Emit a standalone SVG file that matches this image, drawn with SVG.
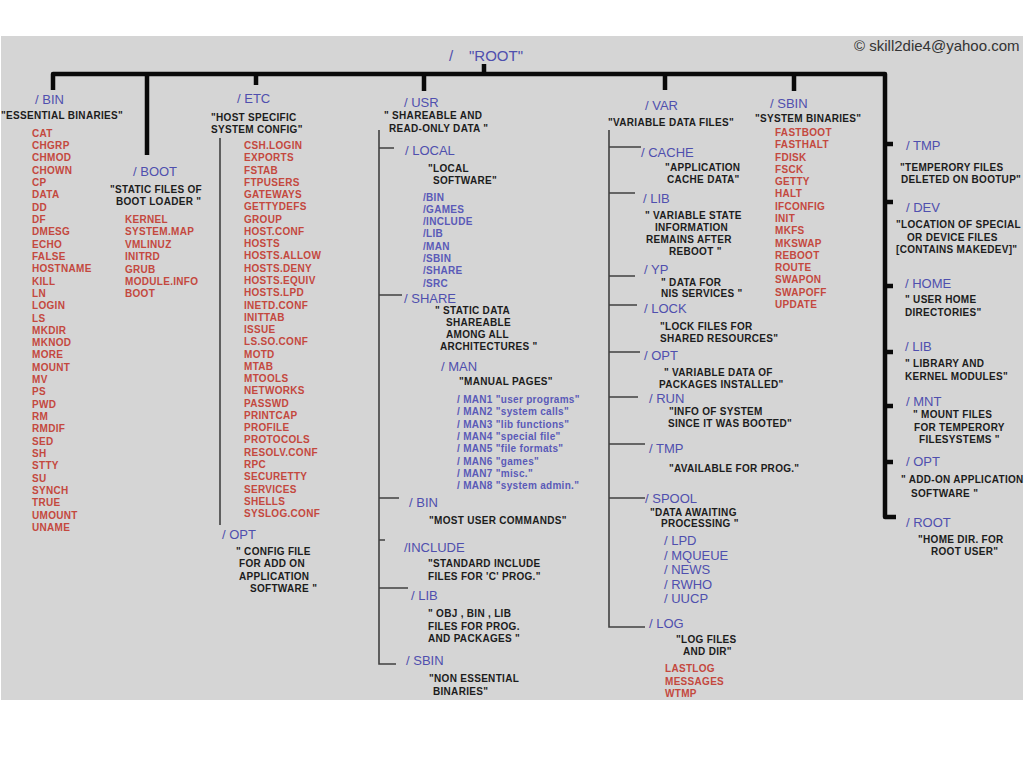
<svg xmlns="http://www.w3.org/2000/svg" width="1024" height="767" viewBox="0 0 1024 767">
<style>
text{font-family:"Liberation Sans",Arial,sans-serif;dominant-baseline:central}
.lb{font-size:13px;fill:#4f4fae}
.ds{font-size:10px;font-weight:bold;fill:#1c1c1c;letter-spacing:0.3px}
.rd{font-size:10px;font-weight:bold;fill:#c4483e;letter-spacing:0.3px}
.sb{font-size:10px;font-weight:bold;fill:#5a5ab8;letter-spacing:0.3px}
.sp{font-size:13px;fill:#4f4fae}
.thick{fill:none;stroke:#0a0a0a;stroke-width:4.5;stroke-linejoin:round}
.thin{fill:none;stroke:#404040;stroke-width:1.6}
</style>
<rect x="0" y="0" width="1024" height="767" fill="#ffffff"/>
<rect x="1" y="36" width="1022" height="664" fill="#d5d5d5"/>
<g id="connectors">
<path class="thick" d="M53,90 V74 H885 V517 H896"/>
<path class="thick" d="M147,74 V155 M256,74 V85 M424,74 V91 M484,64 V74 M665,74 V90 M794,74 V91"/>
<path class="thick" d="M885,144 H893 M885,202 H893 M885,286 H893 M885,352 H893 M885,406 H893 M885,462 H893"/>
<path class="thin" d="M220,138 V525"/>
<path class="thin" d="M379,130 V664 H396 M379,148 H394 M379,295 H402 M379,498 H399 M379,540 H385 M379,588 H408"/>
<path class="thin" d="M609,130 V627 H645 M609,147 H641 M609,193 H635 M609,276 H635 M609,305 H637 M609,352 H640 M609,397 H638 M609,444 H645 M609,498 H645"/>
</g>
<g id="root">
<text x="449" y="55" style="font-size:15px;fill:#4f4fae">/</text>
<text x="469" y="55" style="font-size:15px;fill:#4f4fae">"ROOT"</text>
</g>
<text x="854" y="45" style="font-size:15px;fill:#333">© skill2die4@yahoo.com</text>
<g id="bin">
<text class="lb" x="35" y="99">/ BIN</text>
<text class="ds" x="1" y="115">"ESSENTIAL BINARIES"</text>
<text class="rd" y="132.7"><tspan x="32">CAT</tspan><tspan x="32" dy="12.32">CHGRP</tspan><tspan x="32" dy="12.32">CHMOD</tspan><tspan x="32" dy="12.32">CHOWN</tspan><tspan x="32" dy="12.32">CP</tspan><tspan x="32" dy="12.32">DATA</tspan><tspan x="32" dy="12.32">DD</tspan><tspan x="32" dy="12.32">DF</tspan><tspan x="32" dy="12.32">DMESG</tspan><tspan x="32" dy="12.32">ECHO</tspan><tspan x="32" dy="12.32">FALSE</tspan><tspan x="32" dy="12.32">HOSTNAME</tspan><tspan x="32" dy="12.32">KILL</tspan><tspan x="32" dy="12.32">LN</tspan><tspan x="32" dy="12.32">LOGIN</tspan><tspan x="32" dy="12.32">LS</tspan><tspan x="32" dy="12.32">MKDIR</tspan><tspan x="32" dy="12.32">MKNOD</tspan><tspan x="32" dy="12.32">MORE</tspan><tspan x="32" dy="12.32">MOUNT</tspan><tspan x="32" dy="12.32">MV</tspan><tspan x="32" dy="12.32">PS</tspan><tspan x="32" dy="12.32">PWD</tspan><tspan x="32" dy="12.32">RM</tspan><tspan x="32" dy="12.32">RMDIF</tspan><tspan x="32" dy="12.32">SED</tspan><tspan x="32" dy="12.32">SH</tspan><tspan x="32" dy="12.32">STTY</tspan><tspan x="32" dy="12.32">SU</tspan><tspan x="32" dy="12.32">SYNCH</tspan><tspan x="32" dy="12.32">TRUE</tspan><tspan x="32" dy="12.32">UMOUNT</tspan><tspan x="32" dy="12.32">UNAME</tspan></text>
</g>
<g id="boot">
<text class="lb" x="133" y="171">/ BOOT</text>
<text class="ds" x="110" y="189">"STATIC FILES OF</text>
<text class="ds" x="116" y="201">BOOT LOADER "</text>
<text class="rd" y="219"><tspan x="125">KERNEL</tspan><tspan x="125" dy="12.4">SYSTEM.MAP</tspan><tspan x="125" dy="12.4">VMLINUZ</tspan><tspan x="125" dy="12.4">INITRD</tspan><tspan x="125" dy="12.4">GRUB</tspan><tspan x="125" dy="12.4">MODULE.INFO</tspan><tspan x="125" dy="12.4">BOOT</tspan></text>
</g>
<g id="etc">
<text class="lb" x="237" y="98">/ ETC</text>
<text class="ds" x="211" y="117">"HOST SPECIFIC</text>
<text class="ds" x="211" y="129">SYSTEM CONFIG"</text>
<text class="rd" y="145"><tspan x="244">CSH.LOGIN</tspan><tspan x="244" dy="12.27">EXPORTS</tspan><tspan x="244" dy="12.27">FSTAB</tspan><tspan x="244" dy="12.27">FTPUSERS</tspan><tspan x="244" dy="12.27">GATEWAYS</tspan><tspan x="244" dy="12.27">GETTYDEFS</tspan><tspan x="244" dy="12.27">GROUP</tspan><tspan x="244" dy="12.27">HOST.CONF</tspan><tspan x="244" dy="12.27">HOSTS</tspan><tspan x="244" dy="12.27">HOSTS.ALLOW</tspan><tspan x="244" dy="12.27">HOSTS.DENY</tspan><tspan x="244" dy="12.27">HOSTS.EQUIV</tspan><tspan x="244" dy="12.27">HOSTS.LPD</tspan><tspan x="244" dy="12.27">INETD.CONF</tspan><tspan x="244" dy="12.27">INITTAB</tspan><tspan x="244" dy="12.27">ISSUE</tspan><tspan x="244" dy="12.27">LS.SO.CONF</tspan><tspan x="244" dy="12.27">MOTD</tspan><tspan x="244" dy="12.27">MTAB</tspan><tspan x="244" dy="12.27">MTOOLS</tspan><tspan x="244" dy="12.27">NETWORKS</tspan><tspan x="244" dy="12.27">PASSWD</tspan><tspan x="244" dy="12.27">PRINTCAP</tspan><tspan x="244" dy="12.27">PROFILE</tspan><tspan x="244" dy="12.27">PROTOCOLS</tspan><tspan x="244" dy="12.27">RESOLV.CONF</tspan><tspan x="244" dy="12.27">RPC</tspan><tspan x="244" dy="12.27">SECURETTY</tspan><tspan x="244" dy="12.27">SERVICES</tspan><tspan x="244" dy="12.27">SHELLS</tspan><tspan x="244" dy="12.27">SYSLOG.CONF</tspan></text>
</g>
<g id="etc-opt">
<text class="lb" x="222" y="534">/ OPT</text>
<text class="ds" x="236" y="551">" CONFIG FILE</text>
<text class="ds" x="239" y="563">FOR ADD ON</text>
<text class="ds" x="239" y="576">APPLICATION</text>
<text class="ds" x="250" y="588">SOFTWARE "</text>
</g>
<g id="usr">
<text class="lb" x="404" y="102">/ USR</text>
<text class="ds" x="384" y="115">" SHAREABLE AND</text>
<text class="ds" x="389" y="128">READ-ONLY DATA "</text>
</g>
<g id="usr-local">
<text class="lb" x="405" y="150">/ LOCAL</text>
<text class="ds" x="428" y="168">"LOCAL</text>
<text class="ds" x="433" y="180">SOFTWARE"</text>
<text class="sb" y="196.5"><tspan x="423">/BIN</tspan><tspan x="423" dy="12.3">/GAMES</tspan><tspan x="423" dy="12.3">/INCLUDE</tspan><tspan x="423" dy="12.3">/LIB</tspan><tspan x="423" dy="12.3">/MAN</tspan><tspan x="423" dy="12.3">/SBIN</tspan><tspan x="423" dy="12.3">/SHARE</tspan><tspan x="423" dy="12.3">/SRC</tspan></text>
</g>
<g id="usr-share">
<text class="lb" x="404" y="298">/ SHARE</text>
<text class="ds" x="435" y="310">" STATIC DATA</text>
<text class="ds" x="446" y="322">SHAREABLE</text>
<text class="ds" x="446" y="334">AMONG ALL</text>
<text class="ds" x="440" y="346">ARCHITECTURES "</text>
</g>
<g id="usr-share-man">
<text class="lb" x="441" y="366">/ MAN</text>
<text class="ds" x="459" y="381">"MANUAL PAGES"</text>
<text class="sb" y="399"><tspan x="457">/ MAN1 "user programs"</tspan><tspan x="457" dy="12.35">/ MAN2 "system calls"</tspan><tspan x="457" dy="12.35">/ MAN3 "lib functions"</tspan><tspan x="457" dy="12.35">/ MAN4 "special file"</tspan><tspan x="457" dy="12.35">/ MAN5 "file formats"</tspan><tspan x="457" dy="12.35">/ MAN6 "games"</tspan><tspan x="457" dy="12.35">/ MAN7 "misc."</tspan><tspan x="457" dy="12.35">/ MAN8 "system admin."</tspan></text>
</g>
<g id="usr-bin">
<text class="lb" x="409" y="502">/ BIN</text>
<text class="ds" x="429" y="520">"MOST USER COMMANDS"</text>
</g>
<g id="usr-include">
<text class="lb" x="404" y="547">/INCLUDE</text>
<text class="ds" x="428" y="563">"STANDARD INCLUDE</text>
<text class="ds" x="428" y="576">FILES FOR 'C' PROG."</text>
</g>
<g id="usr-lib">
<text class="lb" x="411" y="595">/ LIB</text>
<text class="ds" x="428" y="613">" OBJ , BIN , LIB</text>
<text class="ds" x="428" y="626">FILES FOR PROG.</text>
<text class="ds" x="428" y="638">AND PACKAGES "</text>
</g>
<g id="usr-sbin">
<text class="lb" x="406" y="660">/ SBIN</text>
<text class="ds" x="429" y="678">"NON ESSENTIAL</text>
<text class="ds" x="433" y="691">BINARIES"</text>
</g>
<g id="var">
<text class="lb" x="645" y="105">/ VAR</text>
<text class="ds" x="608" y="122">"VARIABLE DATA FILES"</text>
</g>
<g id="var-cache">
<text class="lb" x="641" y="152">/ CACHE</text>
<text class="ds" x="665" y="167">"APPLICATION</text>
<text class="ds" x="667" y="179">CACHE DATA"</text>
</g>
<g id="var-lib">
<text class="lb" x="643" y="198">/ LIB</text>
<text class="ds" x="645" y="215">" VARIABLE STATE</text>
<text class="ds" x="655" y="227">INFORMATION</text>
<text class="ds" x="646" y="239">REMAINS AFTER</text>
<text class="ds" x="669" y="251">REBOOT "</text>
</g>
<g id="var-yp">
<text class="lb" x="644" y="269">/ YP</text>
<text class="ds" x="661" y="282">" DATA FOR</text>
<text class="ds" x="661" y="293">NIS SERVICES "</text>
</g>
<g id="var-lock">
<text class="lb" x="644" y="308">/ LOCK</text>
<text class="ds" x="660" y="326">"LOCK FILES FOR</text>
<text class="ds" x="660" y="338">SHARED RESOURCES"</text>
</g>
<g id="var-opt">
<text class="lb" x="644" y="355">/ OPT</text>
<text class="ds" x="664" y="372">" VARIABLE DATA OF</text>
<text class="ds" x="659" y="384">PACKAGES INSTALLED"</text>
</g>
<g id="var-run">
<text class="lb" x="649" y="398">/ RUN</text>
<text class="ds" x="669" y="411">"INFO OF SYSTEM</text>
<text class="ds" x="668" y="423">SINCE IT WAS BOOTED"</text>
</g>
<g id="var-tmp">
<text class="lb" x="649" y="448">/ TMP</text>
<text class="ds" x="669" y="468">"AVAILABLE FOR PROG."</text>
</g>
<g id="var-spool">
<text class="lb" x="645" y="498">/ SPOOL</text>
<text class="ds" x="650" y="512">"DATA AWAITING</text>
<text class="ds" x="661" y="523">PROCESSING "</text>
<text class="sp" y="540"><tspan x="664">/ LPD</tspan><tspan x="664" dy="14.5">/ MQUEUE</tspan><tspan x="664" dy="14.5">/ NEWS</tspan><tspan x="664" dy="14.5">/ RWHO</tspan><tspan x="664" dy="14.5">/ UUCP</tspan></text>
</g>
<g id="var-log">
<text class="lb" x="649" y="623">/ LOG</text>
<text class="ds" x="676" y="639">"LOG FILES</text>
<text class="ds" x="683" y="651">AND DIR"</text>
<text class="rd" y="668"><tspan x="665">LASTLOG</tspan><tspan x="665" dy="12.5">MESSAGES</tspan><tspan x="665" dy="12.5">WTMP</tspan></text>
</g>
<g id="sbin">
<text class="lb" x="770" y="103">/ SBIN</text>
<text class="ds" x="755" y="118">"SYSTEM BINARIES"</text>
<text class="rd" y="132"><tspan x="775">FASTBOOT</tspan><tspan x="775" dy="12.29">FASTHALT</tspan><tspan x="775" dy="12.29">FDISK</tspan><tspan x="775" dy="12.29">FSCK</tspan><tspan x="775" dy="12.29">GETTY</tspan><tspan x="775" dy="12.29">HALT</tspan><tspan x="775" dy="12.29">IFCONFIG</tspan><tspan x="775" dy="12.29">INIT</tspan><tspan x="775" dy="12.29">MKFS</tspan><tspan x="775" dy="12.29">MKSWAP</tspan><tspan x="775" dy="12.29">REBOOT</tspan><tspan x="775" dy="12.29">ROUTE</tspan><tspan x="775" dy="12.29">SWAPON</tspan><tspan x="775" dy="12.29">SWAPOFF</tspan><tspan x="775" dy="12.29">UPDATE</tspan></text>
</g>
<g id="tmp">
<text class="lb" x="906" y="145">/ TMP</text>
<text class="ds" x="900" y="167">"TEMPERORY FILES</text>
<text class="ds" x="901" y="179">DELETED ON BOOTUP"</text>
</g>
<g id="dev">
<text class="lb" x="906" y="207">/ DEV</text>
<text class="ds" x="896" y="224">"LOCATION OF SPECIAL</text>
<text class="ds" x="907" y="237">OR DEVICE FILES</text>
<text class="ds" x="896" y="249">[CONTAINS MAKEDEV]"</text>
</g>
<g id="home">
<text class="lb" x="905" y="283">/ HOME</text>
<text class="ds" x="905" y="299">" USER HOME</text>
<text class="ds" x="905" y="312">DIRECTORIES"</text>
</g>
<g id="lib">
<text class="lb" x="905" y="346">/ LIB</text>
<text class="ds" x="905" y="363">" LIBRARY AND</text>
<text class="ds" x="905" y="376">KERNEL MODULES"</text>
</g>
<g id="mnt">
<text class="lb" x="906" y="401">/ MNT</text>
<text class="ds" x="913" y="414">" MOUNT FILES</text>
<text class="ds" x="914" y="427">FOR TEMPERORY</text>
<text class="ds" x="919" y="439">FILESYSTEMS "</text>
</g>
<g id="opt">
<text class="lb" x="906" y="461">/ OPT</text>
<text class="ds" x="901" y="479">" ADD-ON APPLICATION</text>
<text class="ds" x="911" y="493">SOFTWARE "</text>
</g>
<g id="rootdir">
<text class="lb" x="906" y="522">/ ROOT</text>
<text class="ds" x="918" y="539">"HOME DIR. FOR</text>
<text class="ds" x="931" y="551">ROOT USER"</text>
</g>
</svg>
